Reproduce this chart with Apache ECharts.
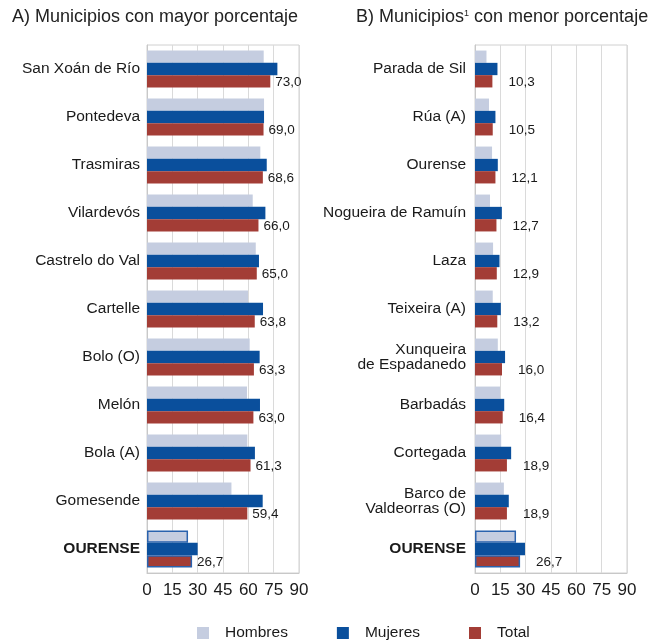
<!DOCTYPE html>
<html>
<head>
<meta charset="utf-8">
<script src="https://cdn.jsdelivr.net/npm/echarts@6/dist/echarts.min.js"></script>
<style>
html,body{margin:0;padding:0;background:#fff;}
#c{width:663px;height:641px;}
</style>
</head>
<body>
<div id="c"></div>
<script>
const catsA = ['San Xoán de Río','Pontedeva','Trasmiras','Vilardevós','Castrelo do Val','Cartelle','Bolo (O)','Melón','Bola (A)','Gomesende','OURENSE'];
const hombresA = [69.1,69.3,67.1,62.6,64.4,59.8,60.8,59.2,59.4,50.0,24.3];
const mujeresA = [77.2,69.3,70.9,70.1,66.3,68.7,66.7,66.9,63.9,68.5,30.0];
const totalA = [73.0,69.0,68.6,66.0,65.0,63.8,63.3,63.0,61.3,59.4,26.7];

const catsB = ['Parada de Sil','Rúa (A)','Ourense','Nogueira de Ramuín','Laza','Teixeira (A)','Xunqueira\nde Espadanedo','Barbadás','Cortegada','Barco de\nValdeorras (O)','OURENSE'];
const hombresB = [6.8,8.3,10.1,8.9,10.7,10.5,13.5,14.9,15.5,17.1,24.3];
const mujeresB = [13.3,12.1,13.5,15.9,14.5,15.3,17.8,17.3,21.4,20.0,29.6];
const totalB = [10.3,10.5,12.1,12.7,12.9,13.2,16.0,16.4,18.9,18.9,26.7];

const seriesNames = ['Hombres','Mujeres','Total'];
const axisTicks = [0,15,30,45,60,75,90];

const C_H = '#c5cde0', C_M = '#0a4f9c', C_T = '#a33d36', C_BORDER = '#2a62ad';
const FONT = '"Liberation Sans", Arial, sans-serif';
const TXT = '#1a1a1a';

function items(vals, cats, outline) {
  return vals.map((v, i) => {
    if (cats[i] === 'OURENSE' && outline) {
      return { value: v, itemStyle: { borderColor: C_BORDER, borderWidth: 1.5 } };
    }
    return v;
  });
}
const fmtVal = p => p.value.toFixed(1).replace('.', ',');

function catAxis(idx, cats, margin) {
  return {
    type: 'category', gridIndex: idx, data: cats, inverse: true,
    axisLine: { show: true, lineStyle: { color: '#c8c8c8', width: 1 } },
    axisTick: { show: false },
    axisLabel: {
      margin: margin, color: TXT, fontFamily: FONT, fontSize: 15.5, lineHeight: 15,
      formatter: v => v === 'OURENSE' ? '{b|OURENSE}' : v,
      rich: { b: { fontWeight: 'bold', fontSize: 15.5, color: TXT, fontFamily: FONT } }
    }
  };
}
function valAxis(idx) {
  return {
    type: 'value', gridIndex: idx, min: axisTicks[0], max: axisTicks[axisTicks.length-1], interval: 15,
    axisLine: { show: true, lineStyle: { color: '#c8c8c8' } },
    axisTick: { show: false },
    splitLine: { show: true, lineStyle: { color: '#dadada', width: 1 } },
    axisLabel: { color: TXT, fontFamily: FONT, fontSize: 17, margin: 9 }
  };
}
function barSeries(idx, cats, h, m, t, labelDist) {
  const common = { type: 'bar', xAxisIndex: idx, yAxisIndex: idx, barWidth: 12.3, barGap: '0%' };
  return [
    Object.assign({}, common, { name: seriesNames[0], data: items(h, cats, true), itemStyle: { color: C_H } }),
    Object.assign({}, common, { name: seriesNames[1], data: items(m, cats, false), itemStyle: { color: C_M } }),
    Object.assign({}, common, { name: seriesNames[2], data: items(t, cats, true), itemStyle: { color: C_T },
      label: { show: true, position: 'right', distance: labelDist, formatter: fmtVal,
               color: TXT, fontFamily: FONT, fontSize: 13.5, offset: [0, 1] } })
  ];
}

const chart = echarts.init(document.getElementById('c'), null, { renderer: 'canvas' });
chart.setOption({
  animation: false,
  backgroundColor: '#ffffff',
  title: [
    { text: 'A) Municipios con mayor porcentaje', left: 12, top: 8, padding: 0,
      textStyle: { fontFamily: FONT, fontSize: 18, fontWeight: 'normal', color: '#222' } },
    { text: '{a|B) Municipios}{s|1}{a| con menor porcentaje}', left: 356, top: 7, padding: 0,
      textStyle: { fontFamily: FONT, fontSize: 18, fontWeight: 'normal', color: '#222',
        rich: { a: { fontFamily: FONT, fontSize: 18, color: '#222', lineHeight: 20 },
                s: { fontFamily: FONT, fontSize: 9, color: '#222', verticalAlign: 'top', lineHeight: 20, padding: [2,0,0,0] } } } }
  ],
  legend: {
    data: seriesNames, left: 197, top: 625, padding: 0, icon: 'rect', itemWidth: 12, itemHeight: 12, itemGap: 49,
    textStyle: { fontFamily: FONT, fontSize: 15.5, color: TXT, padding: [0,0,0,11] }
  },
  grid: [
    { left: 147, top: 45, width: 152, height: 528, show: true, borderColor: '#d0d0d0', borderWidth: 1 },
    { left: 475, top: 45, width: 152, height: 528, show: true, borderColor: '#d0d0d0', borderWidth: 1 }
  ],
  xAxis: [valAxis(0), valAxis(1)],
  yAxis: [catAxis(0, catsA, 7), catAxis(1, catsB, 9)],
  series: [].concat(
    barSeries(0, catsA, hombresA, mujeresA, totalA, 5),
    barSeries(1, catsB, hombresB, mujeresB, totalB, 16)
  )
});
</script>
</body>
</html>
